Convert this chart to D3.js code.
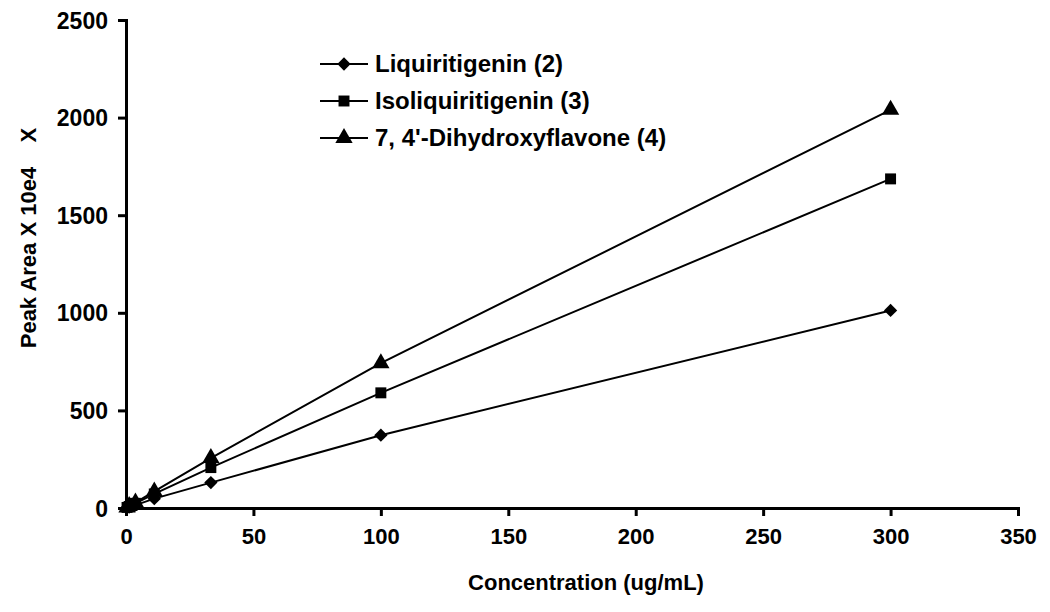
<!DOCTYPE html>
<html>
<head>
<meta charset="utf-8">
<style>
  body { margin: 0; background: #fff; }
  text { font-family: "Liberation Sans", Arial, sans-serif; font-weight: bold; fill: #000; }
</style>
</head>
<body>
<script src="https://d3js.org/d3.v7.min.js"></script>
<script>
// concentrations (ug/mL) and peak areas
var conc = [0.41, 1.23, 3.7, 11.1, 33.3, 100, 300];
var liquiritigenin = [2, 5, 15, 48, 130, 373, 1012];
var isoliquiritigenin = [3, 8, 24, 72, 207, 590, 1686];
var dihydroxyflavone = [3, 10, 28, 85, 256, 742, 2040];
var seriesNames = ["Liquiritigenin (2)", "Isoliquiritigenin (3)", "7, 4'-Dihydroxyflavone (4)"];
var xTicks = [0, 50, 100, 150, 200, 250, 300, 350];
var yTicks = [0, 500, 1000, 1500, 2000, 2500];

var width = 1050, height = 612;
var mLeft = 126, mRight = 1018, mTop = 20, mBottom = 508;

var svg = d3.select("body").append("svg")
  .attr("width", width)
  .attr("height", height);

var x = d3.scaleLinear().domain([0, 350]).range([mLeft, mRight]);
var y = d3.scaleLinear().domain([0, 2500]).range([mBottom, mTop]);

// axes
var xAxis = svg.append("g")
  .attr("transform", "translate(0," + mBottom + ")")
  .call(d3.axisBottom(x).tickValues(xTicks).tickSize(8).tickPadding(12).tickFormat(d3.format("d")));
var yAxis = svg.append("g")
  .attr("transform", "translate(" + mLeft + ",0)")
  .call(d3.axisLeft(y).tickValues(yTicks).tickSize(8).tickPadding(10).tickFormat(d3.format("d")));

[xAxis, yAxis].forEach(function(g) {
  g.select(".domain").attr("stroke", "#000").attr("stroke-width", 3);
  g.selectAll(".tick line").attr("stroke", "#000").attr("stroke-width", 3);
  g.selectAll(".tick text").style("font-weight", "bold").attr("fill", "#000");
});
xAxis.selectAll(".tick text")
  .style("font-family", "'Liberation Sans Narrow', 'Liberation Sans', Arial, sans-serif")
  .style("font-size", "22px");
yAxis.selectAll(".tick text")
  .style("font-family", "'Liberation Sans', Arial, sans-serif")
  .style("font-size", "23px")
  .attr("dy", "0.35em");

// axis titles
svg.append("text")
  .attr("x", 586).attr("y", 590)
  .attr("text-anchor", "middle")
  .style("font-size", "22px")
  .text("Concentration (ug/mL)");

svg.append("text")
  .attr("transform", "translate(36,238) rotate(-90)")
  .attr("text-anchor", "middle")
  .style("font-size", "22px")
  .text("Peak Area X 10e4\u00a0\u00a0\u00a0\u00a0X");

// marker shapes: diamond is a square turned 45 degrees
var markers = [
  { type: d3.symbolSquare, size: 88, rotate: 45 },
  { type: d3.symbolSquare, size: 120, rotate: 0 },
  { type: d3.symbolTriangle, size: 130, rotate: 0 }
];
function markerTransform(px, py, m) {
  return "translate(" + px + "," + py + ") rotate(" + m.rotate + ")";
}

// series
var allSeries = [liquiritigenin, isoliquiritigenin, dihydroxyflavone];
var line = d3.line()
  .x(function(d) { return x(d[0]); })
  .y(function(d) { return y(d[1]); });

allSeries.forEach(function(vals, i) {
  var pts = conc.map(function(c, j) { return [c, vals[j]]; });
  svg.append("path")
    .datum(pts)
    .attr("d", line)
    .attr("fill", "none")
    .attr("stroke", "#000")
    .attr("stroke-width", 2);
  svg.selectAll(".m" + i)
    .data(pts)
    .enter().append("path")
    .attr("class", "m" + i)
    .attr("transform", function(d) { return markerTransform(x(d[0]), y(d[1]), markers[i]); })
    .attr("d", d3.symbol().type(markers[i].type).size(markers[i].size))
    .attr("fill", "#000");
});

// legend
var legend = svg.append("g");
seriesNames.forEach(function(name, i) {
  var ly = 64 + i * 37;
  legend.append("line")
    .attr("x1", 320).attr("x2", 368)
    .attr("y1", ly).attr("y2", ly)
    .attr("stroke", "#000").attr("stroke-width", 2);
  legend.append("path")
    .attr("transform", markerTransform(344, ly, markers[i]))
    .attr("d", d3.symbol().type(markers[i].type).size(markers[i].size))
    .attr("fill", "#000");
  legend.append("text")
    .attr("x", 375).attr("y", ly + 8)
    .style("font-size", "24px")
    .text(name);
});
</script>
</body>
</html>
